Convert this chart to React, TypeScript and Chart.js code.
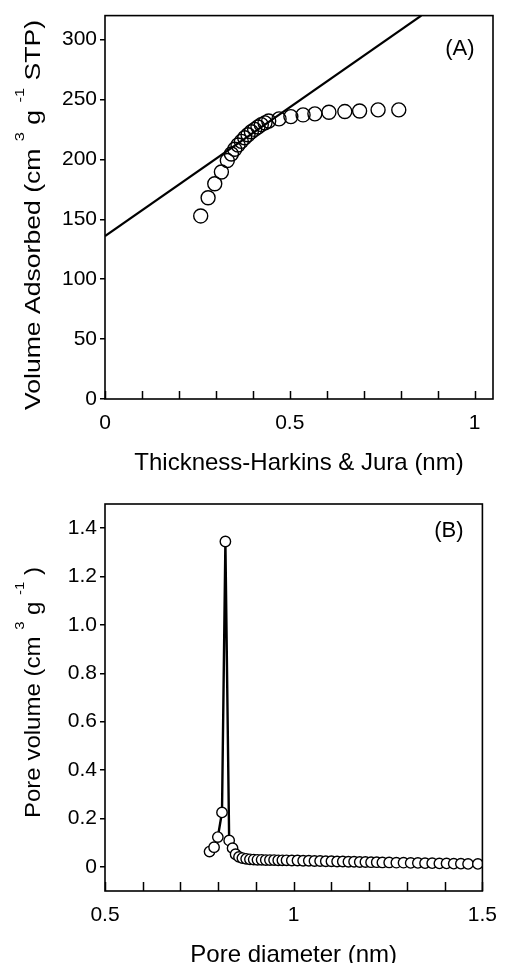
import React, { useEffect, useRef } from 'react';
import { Chart, registerables } from 'chart.js';
Chart.register(...registerables);

const FONT = "'Liberation Sans', Arial, Helvetica, sans-serif";

// ---------- Panel A: t-plot ----------
const tThickness = [0.259, 0.279, 0.297, 0.315, 0.331, 0.342, 0.351, 0.360, 0.369, 0.378, 0.387, 0.396, 0.405, 0.414, 0.423, 0.433, 0.443, 0.471, 0.503, 0.536, 0.568, 0.606, 0.649, 0.689, 0.739, 0.795];
const volAdsorbed = [152.8, 168.0, 179.6, 189.5, 199.0, 204.5, 208.5, 212.0, 215.0, 218.0, 220.5, 223.0, 225.0, 227.0, 229.0, 230.5, 232.0, 233.8, 235.7, 237.1, 238.0, 239.3, 239.9, 240.4, 241.3, 241.3];
const fitLineX = [0, 0.856];
const fitLineY = [136, 320];
const xTicksA = [0, 0.1, 0.2, 0.3, 0.4, 0.5, 0.6, 0.7, 0.8, 0.9, 1.0];
const xLabelsA = [0, 0.5, 1];
const yTicksA = [0, 50, 100, 150, 200, 250, 300];

// ---------- Panel B: pore size distribution ----------
const poreDiameter = [
  0.777, 0.789, 0.799, 0.810, 0.819,
  0.829, 0.838, 0.846, 0.855, 0.864, 0.874, 0.884, 0.894, 0.904, 0.915, 0.926, 0.937, 0.948, 0.959, 0.970, 0.981,
  0.995, 1.010, 1.025, 1.040, 1.055, 1.070, 1.085, 1.100, 1.115, 1.130, 1.145, 1.160, 1.175, 1.190, 1.205, 1.220, 1.235,
  1.253, 1.272, 1.291, 1.310, 1.329, 1.348, 1.367, 1.386, 1.405, 1.424, 1.443, 1.462, 1.488,
];
const poreVolume = [
  0.063, 0.081, 0.123, 0.225, 1.345,
  0.109, 0.077, 0.052, 0.041, 0.036, 0.033, 0.031, 0.030, 0.029, 0.029, 0.028, 0.028, 0.028, 0.027, 0.027, 0.027,
  0.026, 0.026, 0.025, 0.025, 0.024, 0.024, 0.023, 0.023, 0.022, 0.022, 0.021, 0.021, 0.020, 0.020, 0.019, 0.019, 0.018,
  0.018, 0.017, 0.017, 0.016, 0.016, 0.015, 0.015, 0.014, 0.014, 0.013, 0.013, 0.012, 0.012,
];
const xTicksB = [0.5, 0.6, 0.7, 0.8, 0.9, 1.0, 1.1, 1.2, 1.3, 1.4, 1.5];
const xLabelsB = [0.5, 1, 1.5];
const yTicksB = [0, 0.2, 0.4, 0.6, 0.8, 1.0, 1.2, 1.4];

type Seg = { t: string; sup?: boolean };
const yTitleA: Seg[] = [{ t: 'Volume Adsorbed (cm ' }, { t: '3', sup: true }, { t: ' g ' }, { t: '-1', sup: true }, { t: ' STP)' }];
const yTitleB: Seg[] = [{ t: 'Pore volume (cm ' }, { t: '3', sup: true }, { t: ' g ' }, { t: '-1', sup: true }, { t: ' )' }];

function drawRotatedRich(ctx: CanvasRenderingContext2D, segs: Seg[], baseX: number, centerY: number, length: number, size: number) {
  ctx.save();
  const supSize = size * 0.62;
  let total = 0;
  const widths = segs.map((s) => {
    ctx.font = `${s.sup ? supSize : size}px ${FONT}`;
    const w = ctx.measureText(s.t).width;
    total += w;
    return w;
  });
  const k = length / total;
  ctx.translate(baseX, centerY);
  ctx.rotate(-Math.PI / 2);
  ctx.scale(k, 1);
  ctx.textBaseline = 'alphabetic';
  ctx.textAlign = 'left';
  ctx.fillStyle = '#000';
  let x = -total / 2;
  segs.forEach((s, i) => {
    ctx.font = `${s.sup ? supSize : size}px ${FONT}`;
    ctx.fillText(s.t, x, s.sup ? -size * 0.72 : 0);
    x += widths[i];
  });
  ctx.restore();
}

function makeDecor(o: {
  panel: string; panelX: number; panelY: number;
  xTitle: string; xTitleBaseline: number;
  yTitle: Seg[]; yTitleCenter: number; yTitleLen: number;
  tickLen: number;
}) {
  return {
    id: 'decor' + o.panel,
    afterDraw(chart: any) {
      const { ctx, chartArea: a } = chart;
      const xs = chart.scales.x;
      const ys = chart.scales.y;
      ctx.save();
      ctx.strokeStyle = '#000';
      ctx.lineWidth = 1.6;
      ctx.strokeRect(a.left, a.top, a.right - a.left, a.bottom - a.top);
      ctx.lineWidth = 1.5;
      ctx.beginPath();
      xs.ticks.forEach((t: any) => {
        const px = Math.round(xs.getPixelForValue(t.value)) + 0.5;
        ctx.moveTo(px, a.bottom);
        ctx.lineTo(px, a.bottom - o.tickLen);
      });
      ctx.stroke();
      ctx.fillStyle = '#000';
      ctx.font = `22px ${FONT}`;
      ctx.textAlign = 'right';
      ctx.textBaseline = 'middle';
      ctx.fillText(o.panel, xs.getPixelForValue(o.panelX), ys.getPixelForValue(o.panelY));
      ctx.font = `24px ${FONT}`;
      ctx.textAlign = 'center';
      ctx.textBaseline = 'alphabetic';
      ctx.fillText(o.xTitle, (a.left + a.right) / 2, o.xTitleBaseline);
      ctx.restore();
      drawRotatedRich(ctx, o.yTitle, 39.5, o.yTitleCenter, o.yTitleLen, 22);
    },
  };
}

function baseScales(p: {
  xmin: number; xmax: number; ymin: number; ymax: number;
  xTicks: number[]; xLabels: number[]; yTicks: number[];
  yFmt: (v: number) => string; xFmt: (v: number) => string; xHeight: number;
}) {
  const tickFont = { family: FONT, size: 21 };
  return {
    x: {
      type: 'linear',
      min: p.xmin,
      max: p.xmax,
      grid: { display: false, drawTicks: false },
      border: { display: false },
      afterBuildTicks: (s: any) => { s.ticks = p.xTicks.map((v) => ({ value: v })); },
      afterFit: (s: any) => { s.height = p.xHeight; },
      ticks: {
        autoSkip: false,
        maxRotation: 0,
        padding: 12,
        color: '#000',
        font: tickFont,
        callback: (v: any) => {
          const n = Number(v);
          return p.xLabels.some((l) => Math.abs(l - n) < 1e-6) ? p.xFmt(n) : '';
        },
      },
    },
    y: {
      type: 'linear',
      min: p.ymin,
      max: p.ymax,
      grid: { drawOnChartArea: false, drawTicks: true, tickLength: 5, color: '#000', lineWidth: 1.5 },
      border: { display: false },
      afterBuildTicks: (s: any) => { s.ticks = p.yTicks.map((v) => ({ value: v })); },
      afterFit: (s: any) => { s.width = 105; },
      ticks: {
        autoSkip: false,
        padding: 3,
        color: '#000',
        font: tickFont,
        callback: (v: any) => p.yFmt(Number(v)),
      },
    },
  };
}

export default function App() {
  const refA = useRef<HTMLCanvasElement | null>(null);
  const refB = useRef<HTMLCanvasElement | null>(null);

  useEffect(() => {
    const chartA = new Chart(refA.current as HTMLCanvasElement, {
      type: 'scatter',
      data: {
        datasets: [
          {
            data: fitLineX.map((x, i) => ({ x, y: fitLineY[i] })),
            showLine: true,
            borderColor: '#000',
            borderWidth: 2.2,
            pointRadius: 0,
            pointHoverRadius: 0,
          } as any,
          {
            data: tThickness.map((x, i) => ({ x, y: volAdsorbed[i] })),
            showLine: false,
            pointStyle: 'circle',
            pointRadius: 7,
            pointBorderWidth: 1.4,
            pointBorderColor: '#000',
            pointBackgroundColor: 'rgba(0,0,0,0)',
          } as any,
        ],
      },
      options: {
        responsive: false,
        animation: false,
        layout: { padding: { top: 13, right: 16, left: 0, bottom: 0 } },
        plugins: { legend: { display: false }, tooltip: { enabled: false } },
        scales: baseScales({
          xmin: 0, xmax: 1.05, ymin: 0, ymax: 320,
          xTicks: xTicksA, xLabels: xLabelsA, yTicks: yTicksA,
          yFmt: (v) => String(v), xFmt: (v) => String(v), xHeight: 81,
        }) as any,
      },
      plugins: [makeDecor({
        panel: '(A)', panelX: 1.0, panelY: 292,
        xTitle: 'Thickness-Harkins & Jura (nm)', xTitleBaseline: 470,
        yTitle: yTitleA, yTitleCenter: 215, yTitleLen: 390, tickLen: 8,
      })],
    });

    const chartB = new Chart(refB.current as HTMLCanvasElement, {
      type: 'scatter',
      data: {
        datasets: [
          {
            data: poreDiameter.map((x, i) => ({ x, y: poreVolume[i] })),
            showLine: true,
            borderColor: '#000',
            borderWidth: 2.4,
            pointStyle: 'circle',
            pointRadius: 5.2,
            pointBorderWidth: 1.4,
            pointBorderColor: '#000',
            pointBackgroundColor: '#fff',
          } as any,
        ],
      },
      options: {
        responsive: false,
        animation: false,
        layout: { padding: { top: 24, right: 16, left: 0, bottom: 0 } },
        plugins: { legend: { display: false }, tooltip: { enabled: false } },
        scales: baseScales({
          xmin: 0.5, xmax: 1.5, ymin: -0.1, ymax: 1.5,
          xTicks: xTicksB, xLabels: xLabelsB, yTicks: yTicksB,
          yFmt: (v) => (Math.abs(v) < 1e-9 ? '0' : v.toFixed(1)),
          xFmt: (v) => String(v), xHeight: 72,
        }) as any,
      },
      plugins: [makeDecor({
        panel: '(B)', panelX: 1.45, panelY: 1.39,
        xTitle: 'Pore diameter (nm)', xTitleBaseline: 482,
        yTitle: yTitleB, yTitleCenter: 212.5, yTitleLen: 251, tickLen: 9,
      })],
    });

    return () => {
      chartA.destroy();
      chartB.destroy();
    };
  }, []);

  return (
    <div style={{ position: 'absolute', left: 0, top: 0, width: 509, height: 963, background: '#fff', overflow: 'hidden' }}>
      <canvas ref={refA} width={509} height={480} style={{ position: 'absolute', left: 0, top: 0, width: 509, height: 480 }} />
      <canvas ref={refB} width={509} height={483} style={{ position: 'absolute', left: 0, top: 480, width: 509, height: 483 }} />
    </div>
  );
}
